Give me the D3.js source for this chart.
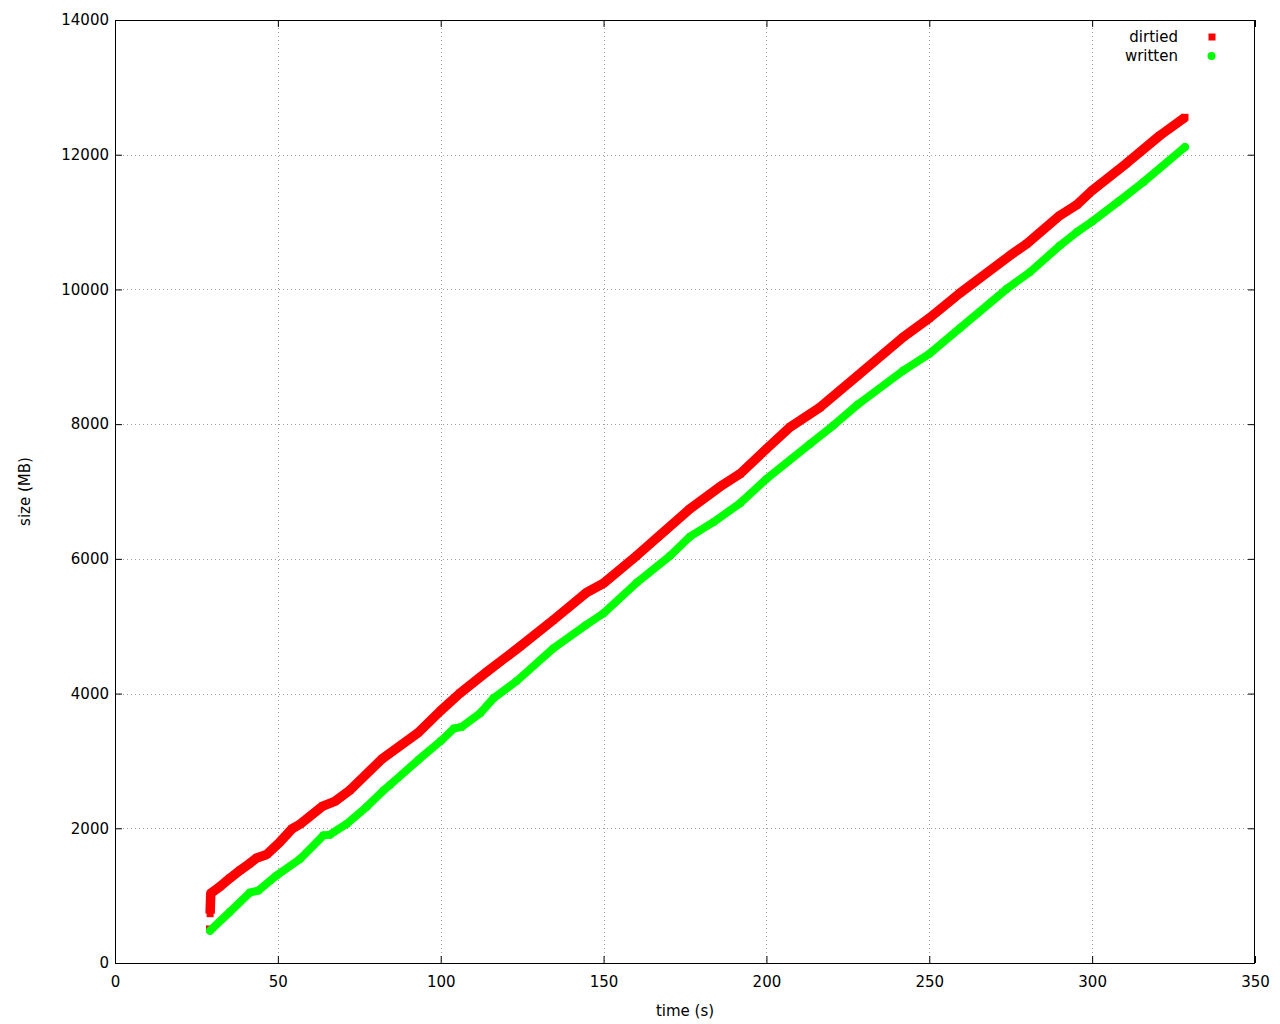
<!DOCTYPE html>
<html>
<head>
<meta charset="utf-8">
<script src="https://cdn.jsdelivr.net/npm/d3@7"></script>
<style>
  html, body { margin: 0; padding: 0; background: #fff; }
  svg { display: block; }
  text { font-family: "DejaVu Sans", sans-serif; font-size: 15px; fill: #000; }
</style>
</head>
<body>
<script>
// ---- data ----
const dirtiedTime = [29.0, 29.2, 29.4, 32.2, 35.3, 38.5, 41.4, 43.5, 46.6, 50.5, 54.3, 56.8, 63.8, 67.5, 72.2, 82.0, 93.1, 100.0, 105.9, 114.1, 124.3, 134.6, 144.8, 150.0, 160.2, 176.5, 185.8, 191.9, 200.0, 207.2, 216.5, 228.0, 242.0, 250.0, 259.4, 274.8, 279.9, 290.1, 295.3, 300.0, 310.6, 320.8, 328.5];
const dirtiedSize = [505, 732, 1035, 1133, 1260, 1380, 1480, 1560, 1612, 1790, 1990, 2060, 2330, 2400, 2569, 3030, 3420, 3747, 4005, 4321, 4697, 5094, 5500, 5638, 6049, 6742, 7073, 7262, 7633, 7955, 8252, 8720, 9291, 9573, 9945, 10504, 10678, 11098, 11256, 11470, 11874, 12285, 12555];

const writtenTime = [29.2, 35.3, 41.4, 44.0, 49.6, 56.8, 64.0, 66.0, 71.1, 77.3, 82.4, 84.4, 93.1, 100.0, 104.0, 106.4, 112.1, 116.2, 123.3, 134.6, 144.5, 150.0, 160.2, 170.4, 176.5, 183.7, 191.9, 200.0, 213.4, 220.5, 228.0, 242.0, 250.0, 259.4, 273.8, 280.9, 290.1, 295.3, 300.0, 308.1, 315.7, 328.5];
const writtenSize = [480, 761, 1045, 1075, 1300, 1544, 1895, 1905, 2064, 2321, 2560, 2643, 3015, 3295, 3480, 3505, 3708, 3931, 4185, 4673, 5015, 5193, 5648, 6045, 6330, 6544, 6826, 7187, 7707, 7979, 8290, 8795, 9044, 9425, 10009, 10257, 10652, 10851, 11008, 11305, 11593, 12115];

const xTicks = [0, 50, 100, 150, 200, 250, 300, 350];
const yTicks = [0, 2000, 4000, 6000, 8000, 10000, 12000, 14000];
const seriesNames = ["dirtied", "written"];
const xTitle = "time (s)";
const yTitle = "size (MB)";

// ---- layout ----
const W = 1280, H = 1024;
const L = 115, R = 1255, T = 20, B = 963;
const tickLen = 7;

const svg = d3.select("body").append("svg").attr("width", W).attr("height", H);

const x = d3.scaleLinear().domain([0, 350]).range([L, R]);
const y = d3.scaleLinear().domain([0, 14000]).range([B, T]);

// grid
const grid = svg.append("g").attr("stroke", "#a0a0a0").attr("stroke-width", 1)
  .attr("stroke-dasharray", "1,3").attr("shape-rendering", "crispEdges");
xTicks.filter(v => v > 0 && v < 350).forEach(v => {
  grid.append("line").attr("x1", Math.round(x(v)) + 0.5).attr("x2", Math.round(x(v)) + 0.5)
    .attr("y1", T).attr("y2", B);
});
yTicks.filter(v => v > 0 && v < 14000).forEach(v => {
  grid.append("line").attr("y1", Math.round(y(v)) + 0.5).attr("y2", Math.round(y(v)) + 0.5)
    .attr("x1", L).attr("x2", R);
});

// axes (ticks inward, mirrored)
const fmt = d3.format("d");
const axB = d3.axisBottom(x).tickValues(xTicks).tickFormat(fmt).tickSizeInner(-tickLen).tickSizeOuter(0).tickPadding(13);
const axT = d3.axisTop(x).tickValues(xTicks).tickSizeInner(-tickLen).tickSizeOuter(0).tickFormat("");
const axL = d3.axisLeft(y).tickValues(yTicks).tickFormat(fmt).tickSizeInner(-tickLen).tickSizeOuter(0).tickPadding(6);
const axR = d3.axisRight(y).tickValues(yTicks).tickSizeInner(-tickLen).tickSizeOuter(0).tickFormat("");

function styleAxis(g) {
  g.select(".domain").remove();
  g.selectAll("line").attr("stroke", "#000");
  g.selectAll("text").style("font-family", "DejaVu Sans, sans-serif").style("font-size", "15px").attr("fill", "#000");
}
svg.append("g").attr("transform", `translate(0,${B})`).call(axB).call(styleAxis);
svg.append("g").attr("transform", `translate(0,${T})`).call(axT).call(styleAxis);
svg.append("g").attr("transform", `translate(${L},0)`).call(axL).call(styleAxis);
svg.append("g").attr("transform", `translate(${R},0)`).call(axR).call(styleAxis);

// data series
const dirtied = dirtiedTime.map((t, i) => ({ t, v: dirtiedSize[i] }));
const written = writtenTime.map((t, i) => ({ t, v: writtenSize[i] }));

const red = "#ff0000", green = "#00ff00";
const plot = svg.append("g");

// dirtied: dense square points -> thick band with square markers
const lineD = d3.line().defined((d, i) => i > 0).x(d => x(d.t)).y(d => y(d.v));
plot.append("path").datum(dirtied).attr("d", lineD).attr("fill", "none")
  .attr("stroke", red).attr("stroke-width", 9.5).attr("stroke-linejoin", "round").attr("stroke-linecap", "butt");
plot.append("g").selectAll("rect").data(dirtied).join("rect")
  .attr("x", d => x(d.t) - 3.5).attr("y", d => y(d.v) - 3.5)
  .attr("width", 7).attr("height", 7).attr("fill", red);

// written: dense circle points -> thick round band
const lineW = d3.line().x(d => x(d.t)).y(d => y(d.v));
plot.append("path").datum(written).attr("d", lineW).attr("fill", "none")
  .attr("stroke", green).attr("stroke-width", 8).attr("stroke-linejoin", "round").attr("stroke-linecap", "round");
plot.append("g").selectAll("circle").data(written).join("circle")
  .attr("cx", d => x(d.t)).attr("cy", d => y(d.v)).attr("r", 4).attr("fill", green);

// border
svg.append("rect").attr("x", L + 0.5).attr("y", T + 0.5).attr("width", R - L - 1).attr("height", B - T)
  .attr("fill", "none").attr("stroke", "#000").attr("stroke-width", 1).attr("shape-rendering", "crispEdges");

// titles
svg.append("text").attr("x", (L + R) / 2).attr("y", 1016).attr("text-anchor", "middle").text(xTitle);
svg.append("text").attr("transform", `translate(30,${(T + B) / 2}) rotate(-90)`)
  .attr("text-anchor", "middle").text(yTitle);

// legend
const leg = svg.append("g");
leg.append("text").attr("x", 1178).attr("y", 42).attr("text-anchor", "end").text(seriesNames[0]);
leg.append("rect").attr("x", 1208.5).attr("y", 33.5).attr("width", 7).attr("height", 7).attr("fill", red);
leg.append("text").attr("x", 1178).attr("y", 61).attr("text-anchor", "end").text(seriesNames[1]);
leg.append("circle").attr("cx", 1211.5).attr("cy", 56).attr("r", 4).attr("fill", green);
</script>
</body>
</html>
